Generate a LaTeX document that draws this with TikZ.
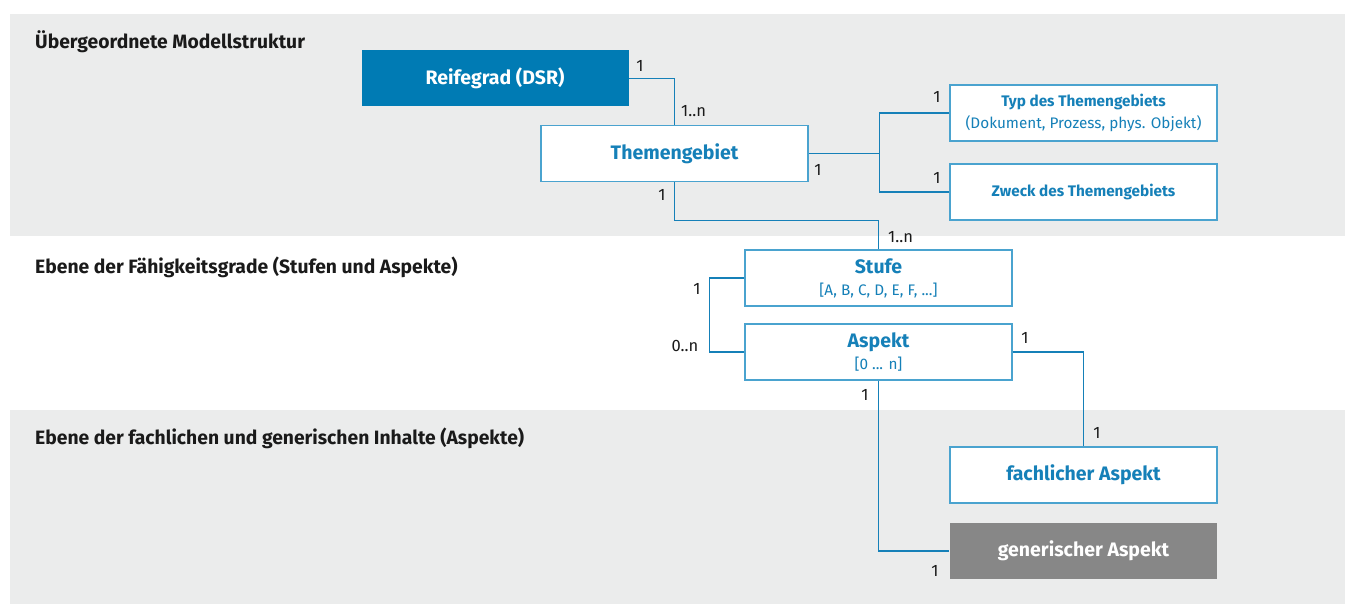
\documentclass[tikz,border=0pt]{standalone}
\usepackage{fontspec}
\setmainfont{Fira Sans}
\definecolor{bandgray}{HTML}{EBECEC}
\definecolor{dsrblue}{HTML}{007BB4}
\definecolor{linkblue}{HTML}{1580B8}
\definecolor{boxedge}{HTML}{4AA3CF}
\definecolor{genGray}{HTML}{878787}
\definecolor{txt}{HTML}{1A1A1A}
\tikzset{
  ebox/.style={draw=boxedge, line width=1.3pt, fill=white, minimum width=267pt, minimum height=56pt, inner sep=0pt, text=linkblue, font=\fontsize{19.5}{22}\selectfont\bfseries, align=center},
  fillbox/.style={ebox, draw=none, text=white},
  conn/.style={draw=linkblue, line width=1.1pt},
  mult/.style={font=\fontsize{16.5}{18}\selectfont, text=txt, inner sep=0pt},
  sectitle/.style={font=\fontsize{19.3}{21}\selectfont\bfseries, text=txt, anchor=west, inner sep=0pt},
}
\begin{document}
\begin{tikzpicture}[x=1pt,y=-1pt]
\useasboundingbox (0,0) rectangle (1345,604);
\fill[white] (0,0) rectangle (1345,604);
\fill[bandgray] (10,14) rectangle (1345,236);
\fill[bandgray] (10,410) rectangle (1345,604);

\node[sectitle] (t1) at (35,42) {Übergeordnete Modellstruktur};
\node[sectitle] (t2) at (35,267) {Ebene der Fähigkeitsgrade (Stufen und Aspekte)};
\node[sectitle] (t3) at (35,438) {Ebene der fachlichen und generischen Inhalte (Aspekte)};

\node[fillbox, fill=dsrblue] (dsr) at (495,78.5) {Reifegrad (DSR)};
\node[ebox, font=\fontsize{15.3}{22}\selectfont] (typ) at (1083.5,113) {\textbf{Typ des Themengebiets}\\(Dokument, Prozess, phys. Objekt)};
\node[ebox, font=\fontsize{15.3}{22}\selectfont\bfseries] (zweck) at (1083.5,192) {Zweck des Themengebiets};
\node[ebox] (thema) at (674.5,153.5) {Themengebiet};
\node[ebox] (stufe) at (878.5,278) {Stufe\\[0pt]{\fontsize{15.3}{18}\selectfont\mdseries [A, B, C, D, E, F, ...]}};
\node[ebox] (aspekt) at (878.5,352) {Aspekt\\[0pt]{\fontsize{15.3}{18}\selectfont\mdseries [0 ... n]}};
\node[ebox] (fach) at (1083.5,475) {fachlicher Aspekt};
\node[fillbox, fill=genGray] (gen) at (1083.5,551) {generischer Aspekt};

% connectors
\draw[conn] (dsr.east) -| (thema.north);
\draw[conn] (thema.east) -- ++(71,0) coordinate (tj) |- (typ.west);
\draw[conn] (tj) |- (zweck.west);
\draw[conn] (thema.south) -- ++(0,38) -| (stufe.north);
\draw[conn] (stufe.west) -- ++(-35,0) |- (aspekt.west);
\draw[conn] (aspekt.east) -| (fach.north);
\draw[conn] (aspekt.south) |- (gen.west);

% multiplicities
\node[mult] (m1) at (640,66) {1};
\node[mult, anchor=west] (m2) at (681,111) {1..n};
\node[mult] (m3) at (818,170) {1};
\node[mult] (m4) at (937,97) {1};
\node[mult] (m5) at (937,178) {1};
\node[mult] (m6) at (662,195) {1};
\node[mult, anchor=west] (m7) at (888,237) {1..n};
\node[mult] (m8) at (697,289) {1};
\node[mult] (m9) at (685,346) {0..n};
\node[mult] (m10) at (1025,338) {1};
\node[mult] (m11) at (1097,433) {1};
\node[mult] (m12) at (865,395) {1};
\node[mult] (m13) at (935,571) {1};
\end{tikzpicture}
\end{document}
